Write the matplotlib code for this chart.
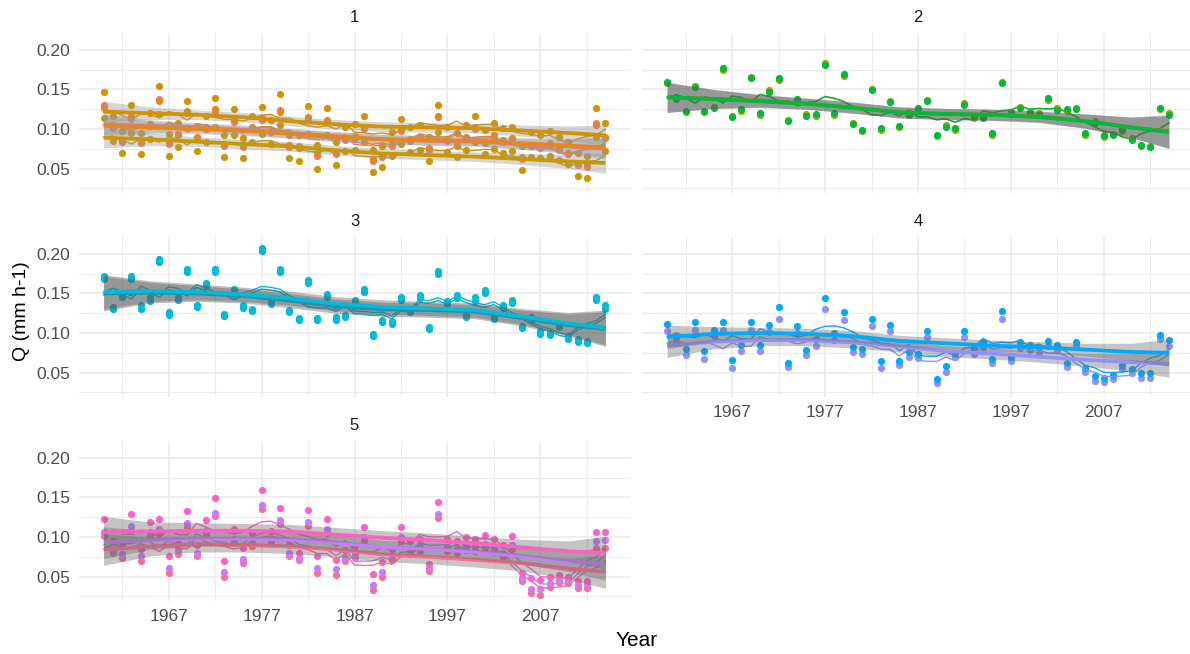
import numpy as np
import pandas as pd
import matplotlib
matplotlib.use('Agg')
import matplotlib.pyplot as plt

plt.rcParams['font.family'] = ['Liberation Sans', 'DejaVu Sans']

years = np.arange(1960, 2015)
knot_years = [1960, 1965, 1970, 1975, 1980, 1985, 1990, 1995, 2000, 2005, 2010, 2014]

# ---- panel 1 ----
p1_gold_hi = [0.147, 0.117, 0.097, 0.130, 0.095, 0.120, 0.154, 0.094, 0.107, 0.136,
              0.102, 0.116, 0.139, 0.092, 0.125, 0.089, 0.116, 0.128, 0.111, 0.144,
              0.093, 0.092, 0.129, 0.080, 0.127, 0.083, 0.103, 0.106, 0.116, 0.073,
              0.078, 0.096, 0.113, 0.102, 0.105, 0.090, 0.131, 0.102, 0.095, 0.105,
              0.117, 0.099, 0.108, 0.101, 0.103, 0.078, 0.096, 0.093, 0.097, 0.090,
              0.084, 0.070, 0.066, 0.126, 0.107]
p1_salmon = [0.130, 0.101, 0.084, 0.113, 0.082, 0.104, 0.138, 0.081, 0.092, 0.120,
             0.088, 0.100, 0.122, 0.079, 0.109, 0.077, 0.100, 0.111, 0.096, 0.124,
             0.077, 0.076, 0.112, 0.066, 0.110, 0.068, 0.086, 0.089, 0.100, 0.060,
             0.064, 0.079, 0.097, 0.085, 0.088, 0.074, 0.115, 0.085, 0.078, 0.088,
             0.100, 0.082, 0.090, 0.084, 0.086, 0.062, 0.078, 0.076, 0.080, 0.074,
             0.068, 0.055, 0.052, 0.108, 0.088]
p1_orange = [0.127, 0.104, 0.086, 0.116, 0.085, 0.106, 0.135, 0.084, 0.094, 0.123,
             0.090, 0.103, 0.125, 0.081, 0.111, 0.080, 0.102, 0.114, 0.098, 0.121,
             0.080, 0.078, 0.115, 0.069, 0.112, 0.071, 0.088, 0.091, 0.103, 0.062,
             0.066, 0.081, 0.100, 0.087, 0.090, 0.076, 0.117, 0.087, 0.080, 0.090,
             0.102, 0.084, 0.092, 0.086, 0.088, 0.064, 0.080, 0.078, 0.082, 0.076,
             0.070, 0.057, 0.054, 0.105, 0.090]
p1_gold_lo = [0.114, 0.085, 0.070, 0.095, 0.068, 0.087, 0.119, 0.066, 0.077, 0.101,
              0.072, 0.084, 0.103, 0.064, 0.092, 0.063, 0.084, 0.094, 0.081, 0.105,
              0.063, 0.060, 0.094, 0.050, 0.093, 0.055, 0.072, 0.074, 0.084, 0.046,
              0.052, 0.066, 0.081, 0.071, 0.074, 0.059, 0.096, 0.071, 0.064, 0.074,
              0.084, 0.068, 0.075, 0.070, 0.072, 0.048, 0.064, 0.063, 0.066, 0.061,
              0.056, 0.040, 0.038, 0.090, 0.072]
p1_gold_hi_fit = [0.122, 0.120, 0.118, 0.115, 0.110, 0.106, 0.103, 0.102, 0.101, 0.098, 0.095, 0.092]
p1_salmon_fit = [0.106, 0.104, 0.102, 0.099, 0.095, 0.091, 0.087, 0.085, 0.084, 0.081, 0.078, 0.075]
p1_orange_fit = [0.104, 0.102, 0.100, 0.098, 0.094, 0.090, 0.087, 0.086, 0.085, 0.082, 0.079, 0.077]
p1_gold_lo_fit = [0.089, 0.087, 0.084, 0.081, 0.078, 0.073, 0.069, 0.067, 0.065, 0.062, 0.059, 0.057]
p1_se = [0.013, 0.008, 0.006, 0.006, 0.006, 0.006, 0.006, 0.006, 0.006, 0.007, 0.009, 0.013]

# ---- panel 2 ----
p2_green = [0.160, 0.138, 0.123, 0.153, 0.123, 0.126, 0.177, 0.115, 0.125, 0.164,
            0.120, 0.147, 0.164, 0.110, 0.138, 0.117, 0.119, 0.181, 0.120, 0.169,
            0.106, 0.099, 0.149, 0.101, 0.134, 0.104, 0.118, 0.127, 0.135, 0.093,
            0.103, 0.101, 0.131, 0.116, 0.114, 0.095, 0.158, 0.121, 0.126, 0.122,
            0.118, 0.139, 0.124, 0.125, 0.125, 0.095, 0.108, 0.092, 0.092, 0.100,
            0.086, 0.080, 0.077, 0.127, 0.118]
p2_olive = [0.158, 0.140, 0.121, 0.155, 0.121, 0.128, 0.175, 0.117, 0.123, 0.166,
            0.118, 0.149, 0.162, 0.112, 0.136, 0.119, 0.117, 0.183, 0.118, 0.167,
            0.108, 0.097, 0.151, 0.099, 0.136, 0.102, 0.120, 0.125, 0.137, 0.091,
            0.105, 0.099, 0.133, 0.114, 0.116, 0.093, 0.160, 0.119, 0.128, 0.120,
            0.120, 0.137, 0.126, 0.123, 0.127, 0.093, 0.110, 0.090, 0.094, 0.098,
            0.088, 0.078, 0.079, 0.125, 0.120]
p2_green_fit = [0.140, 0.138, 0.135, 0.132, 0.127, 0.121, 0.119, 0.118, 0.115, 0.110, 0.102, 0.096]
p2_olive_fit = [0.140, 0.138, 0.136, 0.132, 0.127, 0.121, 0.119, 0.118, 0.116, 0.110, 0.102, 0.097]
p2_se = [0.019, 0.012, 0.008, 0.007, 0.007, 0.007, 0.007, 0.007, 0.007, 0.009, 0.013, 0.021]

# ---- panel 3 ----
p3_cyan = [0.172, 0.133, 0.150, 0.172, 0.135, 0.145, 0.194, 0.126, 0.146, 0.181,
           0.136, 0.163, 0.181, 0.124, 0.156, 0.135, 0.131, 0.208, 0.140, 0.181,
           0.129, 0.119, 0.167, 0.119, 0.149, 0.120, 0.123, 0.142, 0.156, 0.099,
           0.117, 0.115, 0.146, 0.130, 0.148, 0.108, 0.179, 0.140, 0.148, 0.123,
           0.145, 0.155, 0.121, 0.135, 0.142, 0.109, 0.120, 0.102, 0.100, 0.110,
           0.096, 0.092, 0.090, 0.146, 0.135]
p3_sky = [0.168, 0.130, 0.146, 0.168, 0.131, 0.141, 0.190, 0.123, 0.142, 0.177,
          0.133, 0.159, 0.177, 0.121, 0.152, 0.132, 0.128, 0.204, 0.137, 0.177,
          0.126, 0.116, 0.163, 0.116, 0.145, 0.117, 0.120, 0.138, 0.152, 0.096,
          0.114, 0.112, 0.142, 0.127, 0.144, 0.105, 0.175, 0.137, 0.144, 0.120,
          0.141, 0.151, 0.118, 0.132, 0.138, 0.106, 0.117, 0.099, 0.097, 0.107,
          0.093, 0.089, 0.087, 0.142, 0.131]
p3_cyan_fit = [0.152, 0.153, 0.152, 0.149, 0.144, 0.137, 0.133, 0.131, 0.129, 0.121, 0.112, 0.107]
p3_sky_fit = [0.150, 0.151, 0.150, 0.147, 0.141, 0.134, 0.130, 0.129, 0.127, 0.119, 0.110, 0.105]
p3_se = [0.022, 0.013, 0.010, 0.009, 0.009, 0.009, 0.009, 0.009, 0.009, 0.010, 0.014, 0.022]

# ---- panel 4 ----
p4_blue = [0.112, 0.095, 0.080, 0.114, 0.077, 0.104, 0.114, 0.066, 0.085, 0.114,
           0.085, 0.110, 0.133, 0.062, 0.109, 0.079, 0.092, 0.144, 0.100, 0.127,
           0.082, 0.080, 0.118, 0.064, 0.110, 0.064, 0.076, 0.074, 0.103, 0.042,
           0.058, 0.075, 0.102, 0.080, 0.089, 0.067, 0.128, 0.070, 0.088, 0.085,
           0.082, 0.090, 0.085, 0.062, 0.089, 0.056, 0.045, 0.043, 0.047, 0.060,
           0.055, 0.049, 0.049, 0.097, 0.091]
p4_lilac = [0.102, 0.087, 0.072, 0.104, 0.067, 0.096, 0.104, 0.056, 0.077, 0.104,
            0.077, 0.101, 0.118, 0.057, 0.100, 0.072, 0.084, 0.130, 0.091, 0.116,
            0.076, 0.073, 0.109, 0.056, 0.102, 0.059, 0.070, 0.068, 0.095, 0.037,
            0.051, 0.069, 0.095, 0.073, 0.082, 0.062, 0.118, 0.064, 0.081, 0.078,
            0.075, 0.083, 0.078, 0.057, 0.083, 0.051, 0.039, 0.038, 0.042, 0.055,
            0.050, 0.043, 0.043, 0.093, 0.083]
p4_blue_fit = [0.095, 0.099, 0.100, 0.099, 0.096, 0.090, 0.087, 0.084, 0.082, 0.079, 0.076, 0.075]
p4_lilac_fit = [0.084, 0.089, 0.091, 0.091, 0.088, 0.083, 0.077, 0.074, 0.070, 0.066, 0.063, 0.061]
p4_se = [0.015, 0.009, 0.007, 0.007, 0.007, 0.007, 0.007, 0.007, 0.007, 0.008, 0.011, 0.017]

# ---- panel 5 ----
p5_pink = [0.123, 0.095, 0.088, 0.129, 0.085, 0.119, 0.123, 0.076, 0.093, 0.133,
           0.090, 0.121, 0.149, 0.069, 0.110, 0.086, 0.105, 0.160, 0.108, 0.137,
           0.090, 0.080, 0.134, 0.076, 0.123, 0.071, 0.083, 0.088, 0.113, 0.053,
           0.068, 0.085, 0.113, 0.095, 0.098, 0.066, 0.144, 0.098, 0.095, 0.100,
           0.098, 0.102, 0.097, 0.090, 0.101, 0.054, 0.048, 0.046, 0.049, 0.052,
           0.050, 0.044, 0.044, 0.106, 0.106]
p5_purple = [0.106, 0.084, 0.079, 0.114, 0.076, 0.106, 0.110, 0.061, 0.083, 0.118,
             0.080, 0.108, 0.131, 0.056, 0.098, 0.072, 0.093, 0.141, 0.096, 0.121,
             0.080, 0.073, 0.119, 0.061, 0.110, 0.059, 0.074, 0.078, 0.100, 0.039,
             0.056, 0.076, 0.100, 0.084, 0.087, 0.061, 0.129, 0.087, 0.085, 0.089,
             0.087, 0.091, 0.086, 0.080, 0.090, 0.048, 0.034, 0.034, 0.042, 0.046,
             0.045, 0.039, 0.040, 0.095, 0.096]
p5_red = [0.101, 0.080, 0.074, 0.108, 0.069, 0.101, 0.105, 0.055, 0.078, 0.113,
          0.076, 0.103, 0.127, 0.050, 0.093, 0.067, 0.088, 0.136, 0.091, 0.116,
          0.076, 0.071, 0.114, 0.054, 0.105, 0.052, 0.070, 0.073, 0.095, 0.033,
          0.049, 0.071, 0.095, 0.079, 0.082, 0.057, 0.124, 0.082, 0.080, 0.084,
          0.082, 0.086, 0.081, 0.075, 0.085, 0.044, 0.029, 0.026, 0.037, 0.043,
          0.042, 0.036, 0.036, 0.086, 0.086]
p5_pink_fit = [0.106, 0.107, 0.108, 0.108, 0.107, 0.103, 0.099, 0.096, 0.092, 0.087, 0.082, 0.080]
p5_purple_fit = [0.093, 0.096, 0.098, 0.098, 0.097, 0.093, 0.087, 0.085, 0.081, 0.076, 0.069, 0.066]
p5_red_fit = [0.084, 0.088, 0.091, 0.090, 0.088, 0.084, 0.078, 0.075, 0.071, 0.067, 0.060, 0.056]
p5_se = [0.020, 0.012, 0.010, 0.009, 0.009, 0.009, 0.009, 0.009, 0.009, 0.010, 0.013, 0.021]

# label, ribbon grey, stations (colour, yearly values, fit at knots, se at knots)
panels = [
    ('1', '#999999', [('#D39200', p1_gold_hi, p1_gold_hi_fit, p1_se),
                      ('#F8766D', p1_salmon, p1_salmon_fit, p1_se),
                      ('#E7861B', p1_orange, p1_orange_fit, p1_se),
                      ('#C99800', p1_gold_lo, p1_gold_lo_fit, p1_se)]),
    ('2', '#5E5E5E', [('#A3A500', p2_olive, p2_olive_fit, p2_se),
                      ('#00BA38', p2_green, p2_green_fit, p2_se)]),
    ('3', '#5E5E5E', [('#00B4E4', p3_sky, p3_sky_fit, p3_se),
                      ('#00BCD8', p3_cyan, p3_cyan_fit, p3_se)]),
    ('4', '#6E6E6E', [('#8F91FF', p4_lilac, p4_lilac_fit, p4_se),
                      ('#00A9FF', p4_blue, p4_blue_fit, p4_se)]),
    ('5', '#6E6E6E', [('#FF6C91', p5_red, p5_red_fit, p5_se),
                      ('#C77CFF', p5_purple, p5_purple_fit, p5_se),
                      ('#FF61C3', p5_pink, p5_pink_fit, p5_se)]),
]

W, H = 1190, 654
fig = plt.figure(figsize=(W / 100, H / 100), dpi=100)

col_x = [78.5, 642]
row_top = [33, 237, 441]
pw, ph = 552, 160

for i, (label, ribbon, stations) in enumerate(panels):
    r, c = divmod(i, 2)
    x0, top = col_x[c], row_top[r]
    ax = fig.add_axes([x0 / W, (H - top - ph) / H, pw / W, ph / H])

    z = 2
    for col, vals, fit, se in stations:
        ax.scatter(years, vals, s=27, color=col, lw=0, zorder=z)
    z += 1
    for col, vals, fit, se in stations:
        roll = pd.Series(vals).rolling(5, center=True, min_periods=1).mean()
        ax.plot(years, roll, color=col, lw=1.0, zorder=z)
    for col, vals, fit, se in stations:
        fit = np.array(fit)
        se = np.array(se)
        z += 1
        ax.fill_between(knot_years, fit - se, fit + se, color=ribbon, alpha=0.4, lw=0, zorder=z)
        z += 1
        ax.plot(knot_years, fit, color=col, lw=2.7, zorder=z, solid_capstyle='butt')

    ax.set_xlim(1957.3, 2016.7)
    ax.set_ylim(0.019, 0.2215)
    ax.set_xticks([1967, 1977, 1987, 1997, 2007])
    ax.set_xticks([1962, 1972, 1982, 1992, 2002, 2012], minor=True)
    ax.set_yticks([0.05, 0.10, 0.15, 0.20])
    ax.set_yticks([0.025, 0.075, 0.125, 0.175], minor=True)
    ax.set_yticklabels(['0.05', '0.10', '0.15', '0.20'])
    ax.grid(which='major', color='#EBEBEB', lw=1.2, zorder=0)
    ax.grid(which='minor', color='#EBEBEB', lw=0.8, zorder=0)
    ax.set_axisbelow(True)
    for s in ax.spines.values():
        s.set_visible(False)
    ax.tick_params(which='both', length=0, labelsize=12.5, labelcolor='#4D4D4D', pad=6)
    if c == 1:
        ax.tick_params(labelleft=False)
    if i not in (3, 4):
        ax.tick_params(labelbottom=False)

    fig.text((x0 + pw / 2) / W, 1 - (top - 16) / H, label, ha='center', va='center',
             fontsize=12, color='#1A1A1A')

fig.text(637 / W, 1 - 641 / H, 'Year', ha='center', va='center', fontsize=15, color='black')
fig.text(22 / W, 1 - 311 / H, 'Q (mm h-1)', ha='center', va='center', rotation=90,
         fontsize=14, color='black')

fig.savefig('out.png', dpi=100)
